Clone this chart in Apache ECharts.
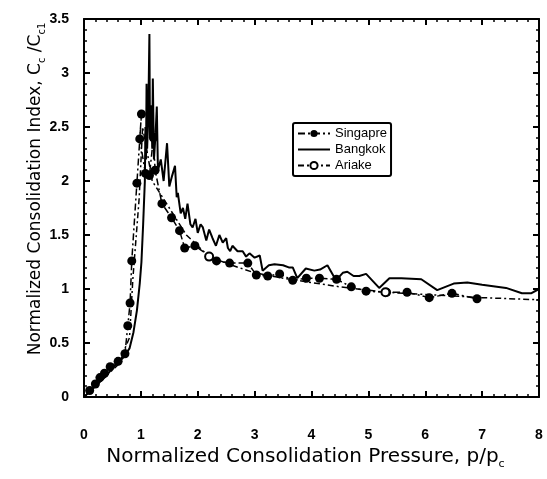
<!DOCTYPE html>
<html><head><meta charset="utf-8">
<script src="https://cdn.jsdelivr.net/npm/echarts@6/dist/echarts.min.js"></script>
<style>html,body{margin:0;padding:0;background:#fff}#c{width:547px;height:479px}</style>
</head><body><div id="c"></div>
<script>
const xTicks = [0,1,2,3,4,5,6,7,8];
const yTicks = [0,0.5,1,1.5,2,2.5,3,3.5];
const seriesNames = ['Singapre','Bangkok','Ariake'];
const singapore = [[0.1,0.06],[0.2,0.12],[0.28,0.18],[0.36,0.22],[0.46,0.28],[0.6,0.33],[0.72,0.4],[0.77,0.66],[0.81,0.87],[0.84,1.26],[0.93,1.98],[1.01,2.62],[0.98,2.39],[1.08,2.07],[1.15,2.05],[1.22,2.4],[1.25,2.1],[1.37,1.79],[1.54,1.66],[1.68,1.54],[1.77,1.38],[1.95,1.4],[2.33,1.26],[2.56,1.24],[2.88,1.24],[3.03,1.13],[3.23,1.12],[3.44,1.14],[3.67,1.08],[3.91,1.1],[4.14,1.1],[4.44,1.09],[4.7,1.02],[4.96,0.98],[5.32,0.97],[5.68,0.97],[6.07,0.92],[6.47,0.96],[6.91,0.91]];
const bangkok = [[0,0],[0.1,0.05],[0.2,0.1],[0.3,0.15],[0.4,0.2],[0.5,0.27],[0.6,0.32],[0.7,0.37],[0.8,0.45],[0.87,0.6],[0.93,0.8],[0.98,1.05],[1.01,1.25],[1.04,1.6],[1.07,2.0],[1.08,2.5],[1.09,2.2],[1.1,2.9],[1.11,2.3],[1.13,2.6],[1.15,3.36],[1.16,2.4],[1.18,2.7],[1.2,2.3],[1.21,2.95],[1.23,2.2],[1.26,2.45],[1.28,2.69],[1.3,2.1],[1.35,2.2],[1.4,2.0],[1.46,2.35],[1.5,1.95],[1.55,2.05],[1.6,2.14],[1.63,1.85],[1.65,1.89],[1.7,1.7],[1.74,1.75],[1.78,1.65],[1.82,1.79],[1.87,1.6],[1.91,1.57],[1.96,1.65],[2.0,1.52],[2.05,1.6],[2.09,1.57],[2.15,1.45],[2.2,1.55],[2.26,1.47],[2.32,1.4],[2.38,1.5],[2.44,1.43],[2.5,1.47],[2.53,1.38],[2.57,1.35],[2.61,1.4],[2.7,1.35],[2.79,1.35],[2.85,1.3],[2.91,1.33],[3.0,1.29],[3.09,1.31],[3.14,1.17],[3.25,1.22],[3.35,1.23],[3.5,1.22],[3.6,1.2],[3.67,1.2],[3.75,1.1],[3.9,1.19],[4.05,1.17],[4.15,1.18],[4.28,1.22],[4.43,1.08],[4.55,1.15],[4.63,1.16],[4.74,1.12],[4.84,1.12],[4.96,1.14],[5.19,1.01],[5.37,1.1],[5.58,1.1],[5.93,1.09],[6.21,0.99],[6.5,1.05],[6.74,1.06],[7.0,1.04],[7.42,1.01],[7.7,0.96],[7.86,0.96],[8.0,1.0]];
const ariake = [[0,0],[0.3,0.15],[0.6,0.3],[0.8,0.55],[0.86,1.1],[0.97,1.84],[1.03,2.5],[1.1,2.3],[1.2,2.0],[1.5,1.75],[1.8,1.5],[2.2,1.3],[2.6,1.22],[3.0,1.15],[3.5,1.1],[4.0,1.06],[4.5,1.02],[5.3,0.97],[6.0,0.95],[7.0,0.92],[8.0,0.9]];
const ariakeMarked = [2.2,5.3];

const chart = echarts.init(document.getElementById('c'), null, {renderer:'canvas'});
const FONT = 'Liberation Sans, Arial, Helvetica, sans-serif';
const WIDE = 'DejaVu Sans, Liberation Sans, sans-serif';
const axisCommon = {
  type:'value',
  axisLine:{show:true,onZero:false,lineStyle:{color:'#000',width:2}},
  axisTick:{show:true,inside:true,length:6,lineStyle:{color:'#000',width:2}},
  minorTick:{show:true,splitNumber:5,length:3,lineStyle:{color:'#000',width:1.5}},
  splitLine:{show:false}
};
chart.setOption({
  animation:false,
  backgroundColor:'#fff',
  grid:{left:84,right:8,top:19,bottom:82},
  legend:{
    orient:'vertical', left:293, top:123,
    borderColor:'#000', borderWidth:2, borderRadius:2,
    padding:[4,4,4,4], itemGap:3, itemWidth:32, itemHeight:9,
    textStyle:{fontFamily:FONT,fontSize:13,color:'#000'},
    data:seriesNames
  },
  xAxis:[
    Object.assign({}, axisCommon, {min:0,max:8,interval:1,position:'bottom',
      axisLabel:{show:true,margin:31,fontFamily:FONT,fontSize:14,fontWeight:'bold',color:'#000',formatter:v=>xTicks.includes(v)?String(v):''},
      name:'Normalized Consolidation Pressure, p/p{s|c}', nameLocation:'middle', nameGap:44,
      nameTextStyle:{fontFamily:WIDE,fontSize:20,color:'#000',padding:[0,12,0,0],rich:{s:{fontFamily:WIDE,fontSize:11,color:'#000',padding:[15,0,0,0]}}}}),
    Object.assign({}, axisCommon, {min:0,max:8,interval:1,position:'top',axisLabel:{show:false}})
  ],
  yAxis:[
    Object.assign({}, axisCommon, {min:0,max:3.5,interval:0.5,position:'left',
      axisLabel:{show:true,margin:15,fontFamily:FONT,fontSize:14,fontWeight:'bold',color:'#000',formatter:v=>yTicks.includes(v)?String(v):''},
      name:'Normalized Consolidation Index, C{s|c} /C{s|c1}', nameLocation:'middle', nameGap:37, nameRotate:90, nameMoveOverlap:false,
      nameTextStyle:{fontFamily:WIDE,fontSize:17,color:'#000',padding:[0,0,0,38],rich:{s:{fontFamily:WIDE,fontSize:10,color:'#000',padding:[13,0,0,0]}}}}),
    Object.assign({}, axisCommon, {min:0,max:3.5,interval:0.5,position:'right',axisLabel:{show:false}})
  ],
  series:[
    {name:seriesNames[0],type:'line',data:singapore,symbol:'circle',symbolSize:9,
      lineStyle:{color:'#000',width:1.5,type:[7,3,2,3]},itemStyle:{color:'#000'},z:3},
    {name:seriesNames[1],type:'line',data:bangkok,symbol:'none',showSymbol:false,
      lineStyle:{color:'#000',width:2},itemStyle:{color:'rgba(0,0,0,0)'},z:2},
    {name:seriesNames[2],type:'line',
      data:ariake.map(p=>ariakeMarked.includes(p[0])?{value:p}:{value:p,symbol:'none'}),
      symbol:'emptyCircle',symbolSize:8,
      lineStyle:{color:'#000',width:1.5,type:[6,3,2,3]},itemStyle:{color:'#000',borderWidth:1.5},z:4}
  ]
});
</script></body></html>
